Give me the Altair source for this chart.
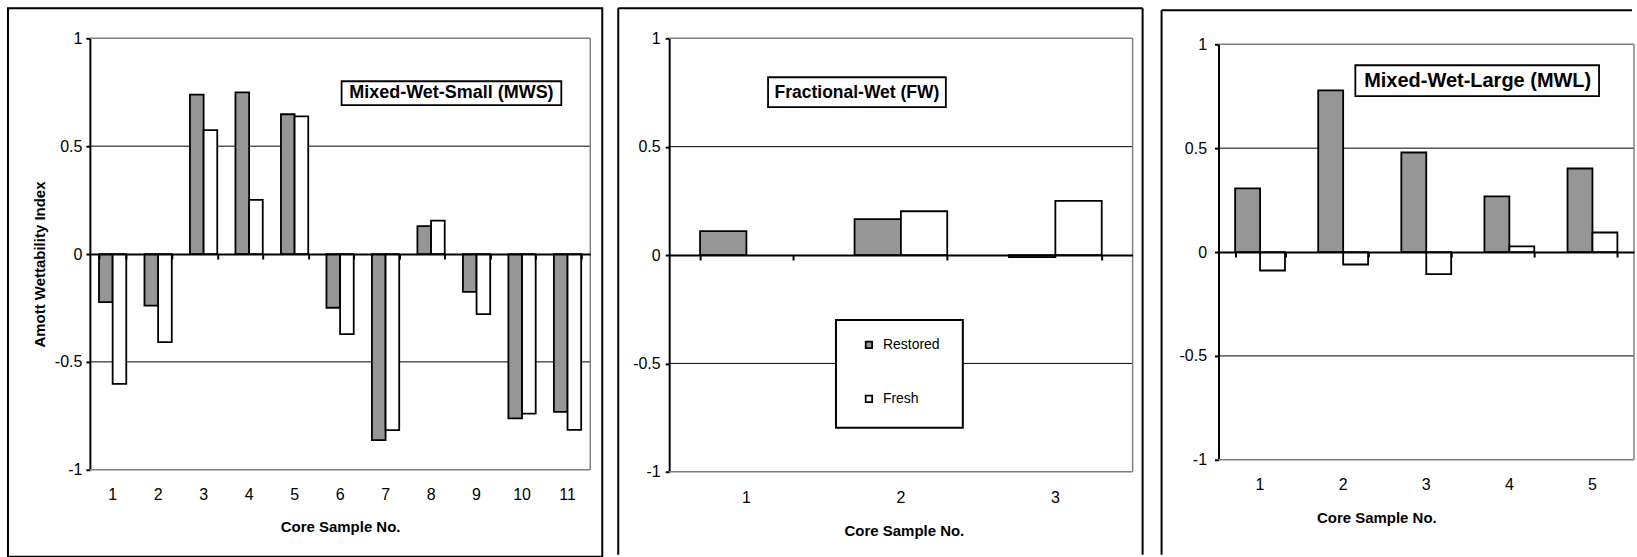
import altair as alt
import pandas as pd

FONT = "Liberation Sans"
SERIES = ["Restored", "Fresh"]
SERIES_COLORS = ["#969696", "#ffffff"]

# ---- data ----
mws_cats = ["1", "2", "3", "4", "5", "6", "7", "8", "9", "10", "11"]
mws_restored = [-0.223, -0.239, 0.739, 0.749, 0.648, -0.249, -0.863, 0.129, -0.175, -0.762, -0.732]
mws_fresh = [-0.602, -0.408, 0.574, 0.251, 0.638, -0.371, -0.816, 0.155, -0.279, -0.740, -0.815]

fw_cats = ["1", "2", "3"]
fw_restored = [0.11, 0.166, -0.01]
fw_fresh = [None, 0.202, 0.25]

mwl_cats = ["1", "2", "3", "4", "5"]
mwl_restored = [0.306, 0.778, 0.479, 0.268, 0.402]
mwl_fresh = [-0.089, -0.060, -0.106, 0.027, 0.094]

panel_titles = ["Mixed-Wet-Small (MWS)", "Fractional-Wet (FW)", "Mixed-Wet-Large (MWL)"]
y_tick_values = [-1, -0.5, 0, 0.5, 1]
grid_values = [0.5, -0.5]
edge_values = [1, -1]
x_title = "Core Sample No."
y_title = "Amott Wettability Index"

GEOM = [
    dict(w=501, h=432, xr=[0, 501], yr=[432, 0], yoff=0, ylp=4, xoff=-216, xlp=30, tx=250.5, ty=62,
         box=(252, 472, 43, 67), txt=(362, 55), tsize=18),
    dict(w=543, h=434, xr=[79, 543], yr=[434, 0], yoff=-79, ylp=5, xoff=-217, xlp=31, tx=314, ty=64,
         box=(178, 356, 39, 69), txt=(267, 54.5), tsize=17.5),
    dict(w=502, h=422, xr=[86, 502], yr=[422, 6], yoff=-86, ylp=8, xoff=-208, xlp=30, tx=244, ty=63,
         box=(223, 467, 27, 58), txt=(345.5, 42.5), tsize=20),
]


def vrule(x, y1, y2, color="black", sw=2):
    return alt.Chart(pd.DataFrame({"k": [0]})).mark_rule(color=color, strokeWidth=sw).encode(
        x=alt.value(x), y=alt.value(y1), y2=alt.value(y2))


def hrule(x1, x2, y, color="black", sw=2):
    return alt.Chart(pd.DataFrame({"k": [0]})).mark_rule(color=color, strokeWidth=sw).encode(
        x=alt.value(x1), x2=alt.value(x2), y=alt.value(y))


def panel(idx, cats, restored, fresh):
    g = GEOM[idx]
    rows = []
    for c, r, f in zip(cats, restored, fresh):
        rows.append({"cat": c, "series": "Restored", "value": r})
        if f is not None:
            rows.append({"cat": c, "series": "Fresh", "value": f})
    df = pd.DataFrame(rows)
    x0, x1 = g["xr"]

    xscale = alt.Scale(domain=cats, range=g["xr"], paddingInner=0.4, paddingOuter=0.2)
    yscale = alt.Scale(domain=[-1, 1], range=g["yr"], nice=False)

    yaxis_kw = dict(values=y_tick_values, labelExpr="toString(datum.value)", grid=False,
                    domainColor="black", domainWidth=2, tickColor="black", tickWidth=2,
                    tickSize=4, labelPadding=g["ylp"], labelFont=FONT, labelFontSize=16,
                    labelColor="black", offset=g["yoff"], orient="left")
    if idx == 0:
        yaxis = alt.Axis(title=y_title, titleFont=FONT, titleFontSize=15, titleFontWeight="bold",
                         titleColor="black", titleX=-50, titleY=226, titleAngle=270,
                         titleAlign="center", titleBaseline="middle", **yaxis_kw)
    else:
        yaxis = alt.Axis(title=None, **yaxis_kw)

    label_axis = alt.Axis(orient="bottom", domain=False, ticks=False, tickSize=0,
                          labelPadding=g["xlp"], labelBaseline="alphabetic", labelFont=FONT,
                          labelFontSize=16, labelColor="black", labelAngle=0, grid=False,
                          title=x_title, titleFont=FONT, titleFontSize=15, titleFontWeight="bold",
                          titleColor="black", titleX=g["tx"], titleY=g["ty"], titleAlign="center",
                          titleBaseline="alphabetic")
    tick_axis = alt.Axis(orient="bottom", domain=True, domainColor="black", domainWidth=2,
                         ticks=True, tickColor="black", tickWidth=2, tickSize=5,
                         tickBand="extent", labels=False, title=None, offset=g["xoff"],
                         grid=False, zindex=1)

    layers = []
    if idx == 0:
        # invisible anchor that fixes the page origin and size
        layers.append(alt.Chart(pd.DataFrame({"k": [0]})).mark_rect(fill="white", fillOpacity=0).encode(
            x=alt.value(-89), x2=alt.value(1548), y=alt.value(-37), y2=alt.value(520)))

    grid = alt.Chart(pd.DataFrame({"v": grid_values})).mark_rule(color="black", strokeWidth=1).encode(
        y=alt.Y("v:Q", scale=yscale, axis=yaxis), x=alt.value(x0), x2=alt.value(x1))
    edges = alt.Chart(pd.DataFrame({"v": edge_values})).mark_rule(color="#808080", strokeWidth=1.5).encode(
        y=alt.Y("v:Q", scale=yscale, axis=yaxis), x=alt.value(x0), x2=alt.value(x1))
    right = alt.Chart(pd.DataFrame({"v": [edge_values[0]], "b": [edge_values[1]]})).mark_rule(
        color="#808080", strokeWidth=1.5).encode(
        x=alt.value(x1), y=alt.Y("v:Q", scale=yscale, axis=yaxis), y2="b:Q")
    layers += [grid, edges, right]

    bx0, bx1, by0, by1 = g["box"]
    tdf = pd.DataFrame({"t": [panel_titles[idx]]})
    box = alt.Chart(tdf).mark_rect(fill="white", stroke="black", strokeWidth=1.8).encode(
        x=alt.value(bx0), x2=alt.value(bx1), y=alt.value(by0), y2=alt.value(by1))
    txt = alt.Chart(tdf).mark_text(font=FONT, fontSize=g["tsize"], fontWeight="bold", color="black",
                                   align="center", baseline="middle").encode(
        text="t:N", x=alt.value(g["txt"][0]), y=alt.value(g["txt"][1]))
    layers += [box, txt]

    if idx == 1:
        layers.append(alt.Chart(pd.DataFrame({"k": [0]})).mark_rect(
            fill="white", stroke="black", strokeWidth=2).encode(
            x=alt.value(246), x2=alt.value(373), y=alt.value(282), y2=alt.value(390)))
        legend = alt.Legend(orient="none", legendX=272, legendY=300, title=None, labelFont=FONT,
                            labelFontSize=14, labelColor="black", symbolType="square",
                            symbolSize=42, symbolStrokeColor="black", symbolStrokeWidth=1.8,
                            symbolOpacity=1, rowPadding=40, labelOffset=7, padding=0, zindex=1)
    else:
        legend = None

    bars = alt.Chart(df).mark_bar(stroke="black", strokeWidth=1.8).encode(
        x=alt.X("cat:N", scale=xscale, axis=label_axis, sort=cats),
        xOffset=alt.XOffset("series:N", scale=alt.Scale(domain=SERIES), sort=SERIES),
        y=alt.Y("value:Q", scale=yscale, axis=yaxis),
        fill=alt.Fill("series:N", scale=alt.Scale(domain=SERIES, range=SERIES_COLORS), legend=legend),
    )
    ticks = alt.Chart(pd.DataFrame({"cat": cats})).mark_point(opacity=0).encode(
        x=alt.X("cat:N", scale=xscale, axis=tick_axis, sort=cats), y=alt.value(0))
    layers += [bars, ticks]

    # outer frames
    if idx == 0:
        layers.append(alt.Chart(pd.DataFrame({"k": [0]})).mark_rect(
            fillOpacity=0, fill="white", stroke="black", strokeWidth=2).encode(
            x=alt.value(-82), x2=alt.value(513), y=alt.value(-30), y2=alt.value(519)))
    elif idx == 1:
        layers += [vrule(28, -30, 517), hrule(28, 553, -30), vrule(553, -30, 517)]
    else:
        layers += [vrule(29, -28, 517), hrule(29, 500, -28)]

    return alt.layer(*layers).resolve_axis(x="independent").properties(width=g["w"], height=g["h"])


p1 = panel(0, mws_cats, mws_restored, mws_fresh)
p2 = panel(1, fw_cats, fw_restored, fw_fresh)
p3 = panel(2, mwl_cats, mwl_restored, mwl_fresh)

chart = alt.hconcat(p1, p2, p3, spacing=0, bounds="flush").resolve_scale(
    x="independent", y="independent", fill="independent", xOffset="independent"
).properties(padding=0, background="white").configure_view(stroke="transparent")

chart.save("out.html", embed_options={"renderer": "svg", "actions": False})
